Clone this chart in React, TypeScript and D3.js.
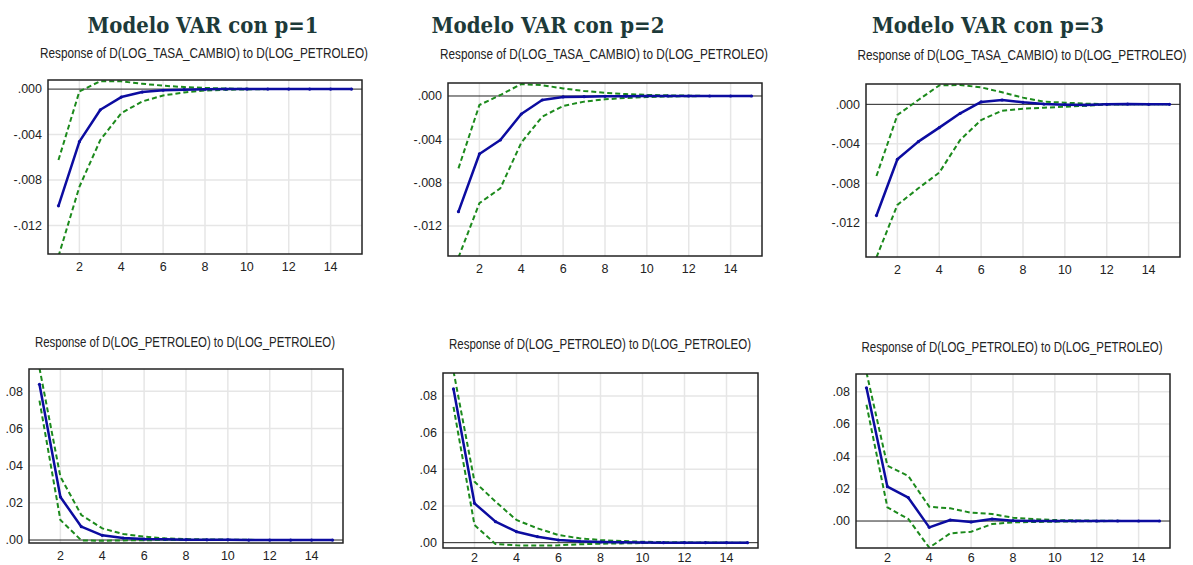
import React from 'react';
import * as d3 from 'd3';

// impulse response periods
const periods = [1, 2, 3, 4, 5, 6, 7, 8, 9, 10, 11, 12, 13, 14, 15];
const xTickValues = [2, 4, 6, 8, 10, 12, 14];
const topTicks = [0, -0.004, -0.008, -0.012];
const bottomTicks = [0, 0.02, 0.04, 0.06, 0.08];

const titles = ['Modelo VAR con p=1', 'Modelo VAR con p=2', 'Modelo VAR con p=3'];
const topSubtitle = 'Response of D(LOG_TASA_CAMBIO) to D(LOG_PETROLEO)';
const bottomSubtitle = 'Response of D(LOG_PETROLEO) to D(LOG_PETROLEO)';

// tasa de cambio <- petroleo
const irfTop1 = [-0.01026, -0.00462, -0.00182, -0.0007, -0.00026, -0.0001, -0.00005, -0.00002, 0, 0, 0, 0, 0, 0, 0];
const upTop1 = [-0.00624, -0.0002, 0.0007, 0.00068, 0.00047, 0.0003, 0.00018, 0.0001, 0.00005, 0.00002, 0, 0, 0, 0, 0];
const loTop1 = [-0.0147, -0.00859, -0.00447, -0.00212, -0.00109, -0.00056, -0.0003, -0.00012, -0.00006, -0.00003, 0, 0, 0, 0, 0];

const irfTop2 = [-0.01068, -0.00535, -0.00406, -0.00166, -0.00037, -0.00009, -0.00006, -0.00003, -0.00002, 0, 0, 0, 0, 0, 0];
const upTop2 = [-0.00668, -0.00083, 0.00009, 0.0011, 0.001, 0.0007, 0.00046, 0.0003, 0.00018, 0.0001, 0.00006, 0.00003, 0, 0, 0];
const loTop2 = [-0.0149, -0.0099, -0.00852, -0.00431, -0.00191, -0.00092, -0.00052, -0.00031, -0.00018, -0.0001, -0.00005, -0.00002, 0, 0, 0];

const irfTop3 = [-0.01127, -0.00557, -0.00378, -0.00236, -0.00091, 0.00024, 0.00044, 0.0002, 0.00003, -0.00003, -0.00007, 0, 0.00003, 0, 0];
const upTop3 = [-0.00726, -0.00108, 0.00044, 0.00192, 0.00196, 0.00172, 0.00122, 0.00068, 0.00027, 0.00017, 0.00007, 0.00003, 0, 0, 0];
const loTop3 = [-0.0155, -0.01019, -0.00851, -0.00692, -0.00361, -0.00159, -0.00064, -0.00044, -0.00034, -0.00024, -0.00014, -0.00003, 0, 0, 0];

// petroleo <- petroleo
const irfBot1 = [0.0838, 0.02314, 0.00717, 0.00251, 0.00108, 0.00054, 0.00036, 0.0002, 0.0001, 0.0001, 0, 0, 0, 0, 0];
const upBot1 = [0.0925, 0.03408, 0.01345, 0.00628, 0.00323, 0.00179, 0.0009, 0.0005, 0.0003, 0.0002, 0.0001, 0, 0, 0, 0];
const loBot1 = [0.075, 0.0108, -0.0002, -0.0004, -0.0002, -0.0001, 0, 0, 0, 0, 0, 0, 0, 0, 0];

const irfBot2 = [0.0838, 0.02145, 0.01145, 0.006, 0.00327, 0.00145, 0.00073, 0.00036, 0.0002, 0.0001, 0, 0, 0, 0, 0];
const upBot2 = [0.0935, 0.03327, 0.02236, 0.01236, 0.00782, 0.00418, 0.00236, 0.00145, 0.0009, 0.0005, 0.0003, 0.0002, 0.0001, 0, 0];
const loBot2 = [0.074, 0.00964, -0.0007, -0.00145, -0.0016, -0.00145, -0.0009, -0.00055, -0.0004, -0.0002, -0.0001, 0, 0, 0, 0];

const irfBot3 = [0.0825, 0.02124, 0.01443, -0.00392, 0.00062, -0.00062, 0.00124, 0.0002, 0, 0, 0, 0, 0, 0, 0];
const upBot3 = [0.092, 0.03423, 0.02784, 0.00887, 0.00784, 0.00515, 0.00433, 0.00206, 0.00124, 0.0006, 0.0004, 0.0002, 0.0001, 0, 0];
const loBot3 = [0.072, 0.00845, 0.00124, -0.0165, -0.00763, -0.0066, -0.00186, -0.0008, -0.0006, -0.0004, -0.0002, -0.0001, 0, 0, 0];

const BLUE = '#0c0ca0';
const GREEN = '#1c8a1c';
const labelFont = "'Liberation Sans', Arial, sans-serif";

// eviews style labels: ".000", "-.004"
const evFormat = (spec) => {
  const f = d3.format(spec);
  return (v) => (v < 0 ? '-' : '') + f(Math.abs(v)).replace(/^0\./, '.');
};

const panels = [
  { id: 'a', box: [48, 362, 80, 254], yDom: [-0.0145, 0.0008], ticks: topTicks, fmt: '.3f',
    irf: irfTop1, up: upTop1, lo: loTop1, sub: topSubtitle, subX: 204, subY: 58, subW: 328 },
  { id: 'b', box: [448, 762, 83, 256], yDom: [-0.01477, 0.0012], ticks: topTicks, fmt: '.3f',
    irf: irfTop2, up: upTop2, lo: loTop2, sub: topSubtitle, subX: 604, subY: 59, subW: 328 },
  { id: 'c', box: [866, 1180, 84, 257], yDom: [-0.01547, 0.00206], ticks: topTicks, fmt: '.3f',
    irf: irfTop3, up: upTop3, lo: loTop3, sub: topSubtitle, subX: 1022, subY: 60, subW: 329 },
  { id: 'd', box: [29, 343, 369, 543], yDom: [-0.0016, 0.092], ticks: bottomTicks, fmt: '.2f',
    irf: irfBot1, up: upBot1, lo: loBot1, sub: bottomSubtitle, subX: 185, subY: 347, subW: 300 },
  { id: 'e', box: [443, 758, 373, 548], yDom: [-0.0029, 0.0925], ticks: bottomTicks, fmt: '.2f',
    irf: irfBot2, up: upBot2, lo: loBot2, sub: bottomSubtitle, subX: 600, subY: 349, subW: 302 },
  { id: 'f', box: [856, 1170, 374, 548], yDom: [-0.0167, 0.091], ticks: bottomTicks, fmt: '.2f',
    irf: irfBot3, up: upBot3, lo: loBot3, sub: bottomSubtitle, subX: 1012, subY: 352, subW: 301 },
];

const titlePos = [[203, 33, 231], [548, 33, 233], [988, 33, 232]];

function Panel({ p }) {
  const [l, r, t, b] = p.box;
  const x = d3.scaleLinear().domain([0.5, 15.5]).range([l, r]);
  const y = d3.scaleLinear().domain(p.yDom).range([b, t]);
  const line = d3.line().x((d) => x(d[0])).y((d) => y(d[1]));
  const pts = (arr) => periods.map((k, i) => [k, arr[i]]);
  const f = evFormat(p.fmt);
  const xLabelY = Math.min(b + 17, 562);
  return (
    <g>
      <clipPath id={'clip-' + p.id}>
        <rect x={l} y={t} width={r - l} height={b - t} />
      </clipPath>
      <rect x={l} y={t} width={r - l} height={b - t} fill="#fff" />
      {p.ticks.filter((v) => v !== 0).map((v) => (
        <line key={'gy' + v} x1={l} x2={r} y1={y(v)} y2={y(v)} stroke="#e6e6e6" strokeWidth={1.5} />
      ))}
      {xTickValues.map((v) => (
        <line key={'gx' + v} x1={x(v)} x2={x(v)} y1={t} y2={b} stroke="#e6e6e6" strokeWidth={1.5} />
      ))}
      <line x1={l} x2={r} y1={y(0)} y2={y(0)} stroke="#222" strokeWidth={1} />
      <g clipPath={`url(#clip-${p.id})`}>
        <path d={line(pts(p.up))} fill="none" stroke={GREEN} strokeWidth={2} strokeDasharray="5,3" />
        <path d={line(pts(p.lo))} fill="none" stroke={GREEN} strokeWidth={2} strokeDasharray="5,3" />
        <path d={line(pts(p.irf))} fill="none" stroke={BLUE} strokeWidth={2.5} strokeLinejoin="round" />
        {pts(p.irf).map((d) => (
          <circle key={'m' + d[0]} cx={x(d[0])} cy={y(d[1])} r={1.6} fill={BLUE} />
        ))}
      </g>
      <rect x={l} y={t} width={r - l} height={b - t} fill="none" stroke="#222" strokeWidth={1.5} />
      {p.ticks.map((v) => (
        <text key={'ty' + v} x={l - 6} y={y(v)} dy="0.35em" textAnchor="end"
          fontFamily={labelFont} fontSize={12.5} fill="#222">{f(v)}</text>
      ))}
      {xTickValues.map((v) => (
        <text key={'tx' + v} x={x(v)} y={xLabelY} textAnchor="middle"
          fontFamily={labelFont} fontSize={12.5} fill="#222">{v}</text>
      ))}
      <text x={p.subX} y={p.subY} textAnchor="middle" fontFamily={labelFont} fontSize={14.5}
        fill="#222" textLength={p.subW} lengthAdjust="spacingAndGlyphs">{p.sub}</text>
    </g>
  );
}

export default function App() {
  return (
    <svg width={1193} height={565} style={{ position: 'absolute', left: 0, top: 0, background: '#fff' }}>
      {titles.map((s, i) => (
        <text key={s} x={titlePos[i][0]} y={titlePos[i][1]} textAnchor="middle"
          fontFamily="'DejaVu Serif', serif" fontWeight="bold" fontSize={23} fill="#1d3a39"
          textLength={titlePos[i][2]} lengthAdjust="spacingAndGlyphs">{s}</text>
      ))}
      {panels.map((p) => <Panel key={p.id} p={p} />)}
    </svg>
  );
}
